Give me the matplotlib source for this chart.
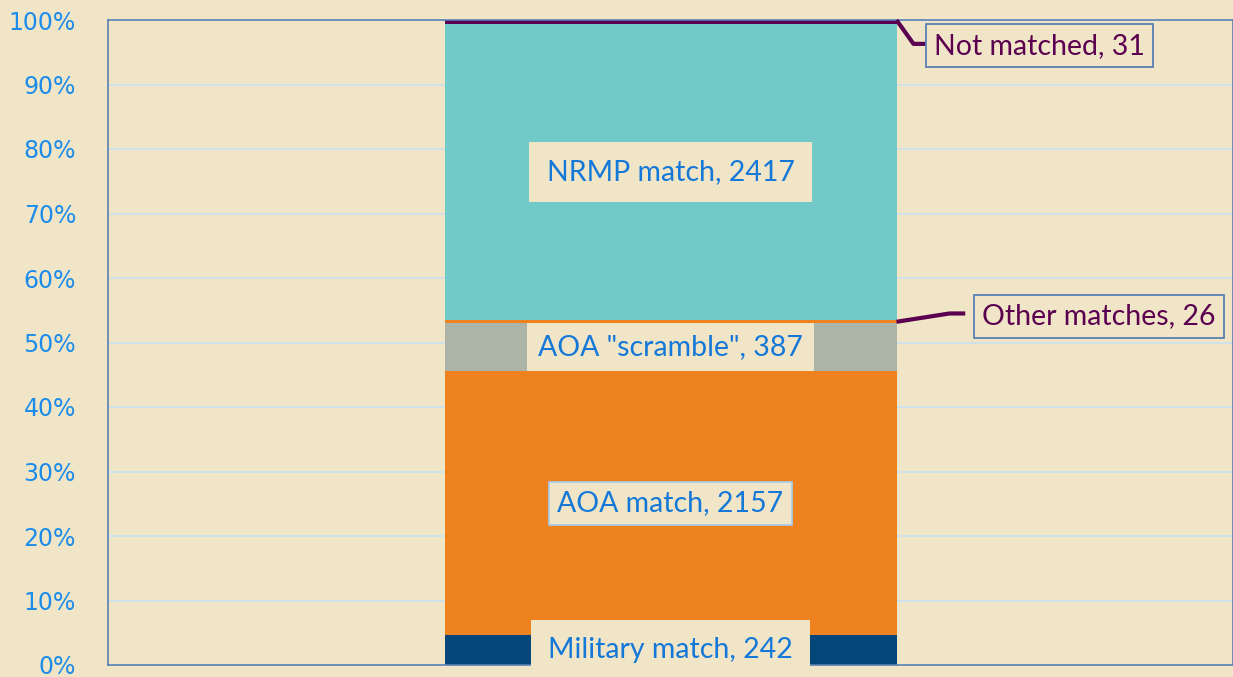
import matplotlib
matplotlib.use("Agg")
import matplotlib.pyplot as plt
import numpy as np

# ── data ──────────────────────────────────────────────────────────────────────
categories = ["Military match", "AOA match", 'AOA "scramble"', "Other matches",
              "NRMP match", "Not matched"]
counts = [242, 2157, 387, 26, 2417, 31]
colours = ["#04457A", "#EE821E", "#ABB4A7", "#EE821E", "#72CAC8", "#5B0050"]
y_ticks = [0, 10, 20, 30, 40, 50, 60, 70, 80, 90, 100]

BG = "#F1E5C7"
TICK_BLUE = "#1C8CEB"
LABEL_BLUE = "#1478D8"
PURPLE = "#5B0050"

shares = np.array(counts) / sum(counts) * 100
bottoms = np.concatenate([[0], np.cumsum(shares)[:-1]])

fig = plt.figure(figsize=(12.33, 6.77), dpi=100, facecolor=BG)
ax = fig.add_axes([108 / 1233, 12 / 677, 1125 / 1233, 645 / 677])
ax.set_facecolor(BG)

bar_w = 452 / 1125
for share, bottom, col in zip(shares, bottoms, colours):
    ax.bar(0, share, bottom=bottom, width=bar_w, color=col, linewidth=0, zorder=2)

ax.set_xlim(-0.5, 0.5)
ax.set_ylim(0, 100)
ax.set_yticks(y_ticks)
ax.set_yticklabels([f"{t}%" for t in y_ticks])
ax.set_xticks([])
ax.tick_params(axis="y", length=0, pad=23, labelsize=17, labelcolor=TICK_BLUE)
ax.grid(axis="y", color="#C9E1F0", linewidth=1.2, zorder=0)
for s in ax.spines.values():
    s.set_color("#5B80B4")
    s.set_linewidth(1.2)

font = ["Lato", "DejaVu Sans"]
FS = 20.5

# inside labels
inside = {
    0: dict(edge="none", pad=0.6),
    1: dict(edge="#A5CDF2", pad=0.3),
    2: dict(edge="none", pad=0.4),
    4: dict(edge="none", pad=0.6),
}
for i, opt in inside.items():
    y = bottoms[i] + shares[i] / 2
    ax.text(0, y, f"{categories[i]}, {counts[i]}", ha="center", va="center",
            fontsize=FS, color=LABEL_BLUE, family=font, zorder=4,
            bbox=dict(boxstyle=f"square,pad={opt['pad']}", fc=BG,
                      ec=opt["edge"], lw=1.2))

# outside labels with leader lines
right = bar_w / 2
outside = {
    5: dict(tx=0.328, ty=96.0, elbow=(0.216, 96.3), box_left=0.227, ytop=True),
    3: dict(tx=0.381, ty=54.1, elbow=(0.248, 54.5), box_left=0.262, ytop=False),
}
for i, opt in outside.items():
    y0 = bottoms[i] + shares[i] if opt["ytop"] else bottoms[i] + shares[i] / 2
    ex, ey = opt["elbow"]
    ax.text(opt["tx"], opt["ty"], f"{categories[i]}, {counts[i]}",
            ha="center", va="center", fontsize=FS, color=PURPLE,
            family=font, zorder=4,
            bbox=dict(boxstyle="square,pad=0.3", fc=BG, ec="#5B80B4", lw=1.3))
    ax.plot([right, ex, opt["box_left"]], [y0, ey, ey], color=PURPLE, lw=3,
            solid_capstyle="butt", zorder=3, clip_on=False)

fig.savefig("out.png", dpi=100, facecolor=BG)
